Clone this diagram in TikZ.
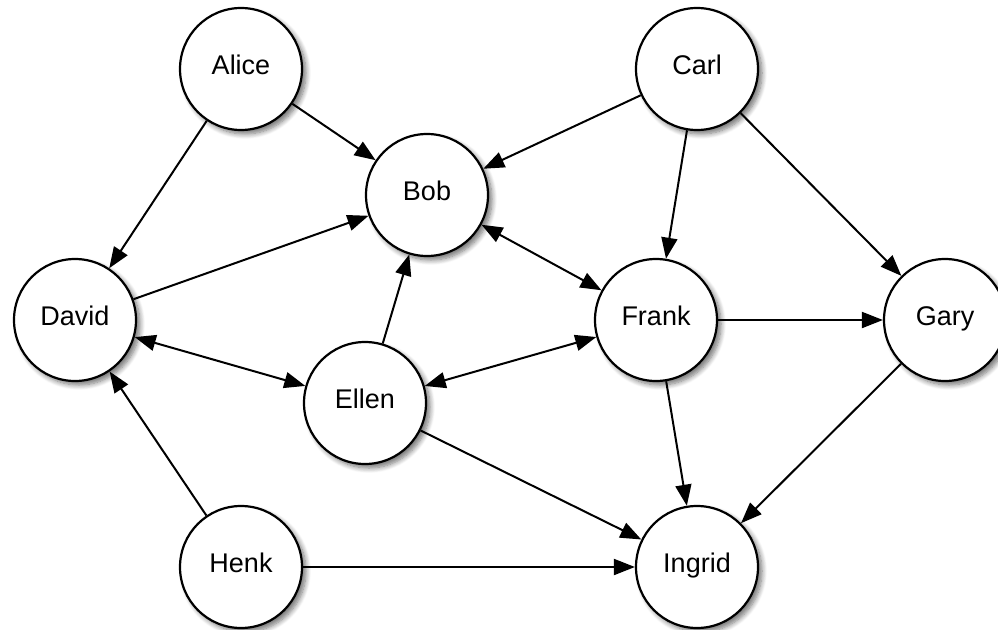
\documentclass[tikz,border=0pt]{standalone}
\usepackage{fontspec}
\setmainfont{Liberation Sans}
\usetikzlibrary{arrows.meta,shadows.blur}

\tikzset{
  person/.style={circle, draw=black, line width=2.2pt, fill=white,
    minimum size=122pt, inner sep=0pt,
    font=\fontsize{27}{31}\selectfont,
    text height=19.3pt, text depth=8pt,
    blur shadow={shadow xshift=4pt, shadow yshift=-4pt,
      shadow blur radius=5pt, shadow blur steps=8, shadow opacity=55}},
  tip/.style={Triangle[length=21pt,width=16pt]},
  link/.style={line width=2pt, -{Triangle[length=21pt,width=16pt]}},
  twoway/.style={line width=2pt, {Triangle[length=21pt,width=16pt]}-{Triangle[length=21pt,width=16pt]}}
}

\begin{document}
\begin{tikzpicture}[x=1pt,y=-1pt]
  \useasboundingbox (0,0) rectangle (998,629);

  % people
  \node[person] (alice)  at (241,69)  {Alice};
  \node[person] (carl)   at (697,69)  {Carl};
  \node[person] (bob)    at (427,195) {Bob};
  \node[person] (david)  at (75,320)  {David};
  \node[person] (frank)  at (656,320) {Frank};
  \node[person] (gary)   at (945,320) {Gary};
  \node[person] (ellen)  at (365,403) {Ellen};
  \node[person] (henk)   at (241,567) {Henk};
  \node[person] (ingrid) at (697,567) {Ingrid};

  % one-way relations
  \draw[link] (alice) -- (bob);
  \draw[link] (alice) -- (david);
  \draw[link] (carl) -- (bob);
  \draw[link] (carl) -- (frank);
  \draw[link] (carl) -- (gary);
  \draw[link] (david) -- (bob);
  \draw[link] (ellen) -- (bob);
  \draw[link] (frank) -- (gary);
  \draw[link] (frank) -- (ingrid);
  \draw[link] (ellen) -- (ingrid);
  \draw[link] (gary) -- (ingrid);
  \draw[link] (henk) -- (david);
  \draw[link] (henk) -- (ingrid);

  % mutual relations
  \draw[twoway] (david) -- (ellen);
  \draw[twoway] (bob) -- (frank);
  \draw[twoway] (frank) -- (ellen);
\end{tikzpicture}
\end{document}
